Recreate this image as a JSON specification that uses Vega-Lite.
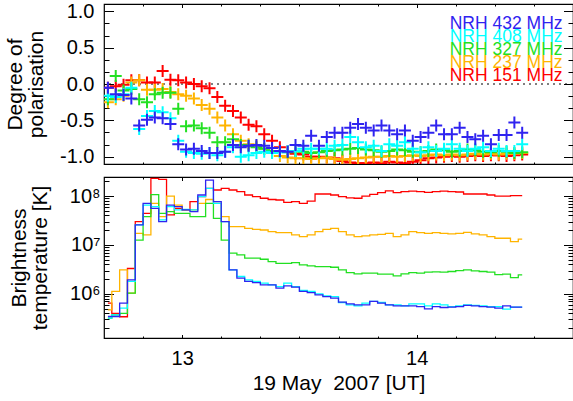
{
"$schema": "https://vega.github.io/schema/vega-lite/v6.json",
"padding": {"left": 3, "top": 0, "right": 0, "bottom": 0},
"spacing": 7,
"config": {
 "font": "Liberation Sans",
 "view": {"stroke": "black", "strokeWidth": 1.2},
 "axis": {"grid": false, "domain": false, "labelFont": "Liberation Sans", "titleFont": "Liberation Sans", "labelFontSize": 20, "titleFontSize": 21, "titleFontWeight": "normal", "labelColor": "black", "titleColor": "black", "tickColor": "black", "tickWidth": 1, "labelFlush": false, "labelOverlap": false, "titleLineHeight": 21}
},
"resolve": {"scale": {"x": "independent", "y": "independent", "color": "shared"}, "legend": {"color": "independent"}},
"data": {"values": [
{"t":12.6833,"f":151,"p":-0.05,"T":6.45e5},{"t":12.7167,"f":151,"p":-0.03,"T":4.0e5},{"t":12.75,"f":151,"p":-0.01,"T":3.4e5},{"t":12.7833,"f":151,"p":0.05,"T":3.3e6},{"t":12.8167,"f":151,"p":0.05,"T":3.0e7},{"t":12.85,"f":151,"p":0.02,"T":4.4e7},{"t":12.8833,"f":151,"p":0.02,"T":2.3e8},{"t":12.9167,"f":151,"p":0.18,"T":2.2e8},{"t":12.95,"f":151,"p":0.06,"T":4.1e7},{"t":12.9833,"f":151,"p":0.05,"T":5.6e7},
{"t":13.0167,"f":151,"p":0.02,"T":5.2e7},{"t":13.05,"f":151,"p":0.0,"T":7.7e7},{"t":13.0833,"f":151,"p":-0.03,"T":9.7e7},{"t":13.1167,"f":151,"p":-0.06,"T":1.43e8},{"t":13.15,"f":151,"p":-0.18,"T":1.33e8},{"t":13.1833,"f":151,"p":-0.30,"T":1.43e8},{"t":13.2167,"f":151,"p":-0.37,"T":1.33e8},{"t":13.25,"f":151,"p":-0.46,"T":1.23e8},{"t":13.2833,"f":151,"p":-0.56,"T":1.05e8},{"t":13.3167,"f":151,"p":-0.58,"T":9.7e7},
{"t":13.35,"f":151,"p":-0.69,"T":9.0e7},{"t":13.3833,"f":151,"p":-0.78,"T":8.5e7},{"t":13.4167,"f":151,"p":-0.87,"T":8.3e7},{"t":13.45,"f":151,"p":-0.92,"T":7.4e7},{"t":13.4833,"f":151,"p":-0.96,"T":7.7e7},{"t":13.5167,"f":151,"p":-0.97,"T":7.1e7},{"t":13.55,"f":151,"p":-1.0,"T":7.9e7},{"t":13.5833,"f":151,"p":-1.0,"T":1.1e8},{"t":13.6167,"f":151,"p":-1.01,"T":1.1e8},{"t":13.65,"f":151,"p":-1.02,"T":1.05e8},
{"t":13.6833,"f":151,"p":-1.06,"T":9.7e7},{"t":13.7167,"f":151,"p":-1.08,"T":9.2e7},{"t":13.75,"f":151,"p":-1.09,"T":9.0e7},{"t":13.7833,"f":151,"p":-1.09,"T":1.0e8},{"t":13.8167,"f":151,"p":-1.08,"T":1.08e8},{"t":13.85,"f":151,"p":-1.09,"T":1.17e8},{"t":13.8833,"f":151,"p":-1.07,"T":1.28e8},{"t":13.9167,"f":151,"p":-1.08,"T":1.17e8},{"t":13.95,"f":151,"p":-1.09,"T":1.23e8},{"t":13.9833,"f":151,"p":-1.07,"T":1.26e8},
{"t":14.0167,"f":151,"p":-1.05,"T":1.23e8},{"t":14.05,"f":151,"p":-1.02,"T":1.19e8},{"t":14.0833,"f":151,"p":-1.01,"T":1.23e8},{"t":14.1167,"f":151,"p":-1.0,"T":1.26e8},{"t":14.15,"f":151,"p":-0.99,"T":1.23e8},{"t":14.1833,"f":151,"p":-1.0,"T":1.21e8},{"t":14.2167,"f":151,"p":-0.99,"T":1.1e8},{"t":14.25,"f":151,"p":-0.98,"T":1.1e8},{"t":14.2833,"f":151,"p":-0.99,"T":1.1e8},{"t":14.3167,"f":151,"p":-0.98,"T":1.05e8},
{"t":14.35,"f":151,"p":-0.98,"T":1.0e8},{"t":14.3833,"f":151,"p":-0.99,"T":1.0e8},{"t":14.4167,"f":151,"p":-0.98,"T":1.02e8},{"t":14.45,"f":151,"p":-0.97,"T":1.02e8},
{"t":12.6833,"f":237,"p":-0.25,"T":4.7e5},{"t":12.7167,"f":237,"p":-0.21,"T":1.12e6},{"t":12.75,"f":237,"p":-0.16,"T":3.1e6},{"t":12.7833,"f":237,"p":0.02,"T":1.03e6},{"t":12.8167,"f":237,"p":0.05,"T":1.73e7},{"t":12.85,"f":237,"p":-0.08,"T":1.6e7},{"t":12.8833,"f":237,"p":-0.08,"T":7.1e7},{"t":12.9167,"f":237,"p":-0.07,"T":3.8e7},{"t":12.95,"f":237,"p":-0.11,"T":1.0e8},{"t":12.9833,"f":237,"p":-0.14,"T":6.5e7},
{"t":13.0167,"f":237,"p":-0.16,"T":5.2e7},{"t":13.05,"f":237,"p":-0.20,"T":5.2e7},{"t":13.0833,"f":237,"p":-0.29,"T":7.1e7},{"t":13.1167,"f":237,"p":-0.34,"T":8.5e7},{"t":13.15,"f":237,"p":-0.46,"T":7.1e7},{"t":13.1833,"f":237,"p":-0.57,"T":3.8e7},{"t":13.2167,"f":237,"p":-0.69,"T":2.37e7},{"t":13.25,"f":237,"p":-0.78,"T":2.37e7},{"t":13.2833,"f":237,"p":-0.83,"T":2.19e7},{"t":13.3167,"f":237,"p":-0.85,"T":2.09e7},
{"t":13.35,"f":237,"p":-0.89,"T":2.02e7},{"t":13.3833,"f":237,"p":-0.94,"T":1.87e7},{"t":13.4167,"f":237,"p":-0.99,"T":1.79e7},{"t":13.45,"f":237,"p":-1.01,"T":1.79e7},{"t":13.4833,"f":237,"p":-1.02,"T":1.6e7},{"t":13.5167,"f":237,"p":-1.02,"T":1.48e7},{"t":13.55,"f":237,"p":-1.03,"T":1.6e7},{"t":13.5833,"f":237,"p":-1.02,"T":1.87e7},{"t":13.6167,"f":237,"p":-1.01,"T":2.09e7},{"t":13.65,"f":237,"p":-1.03,"T":2.19e7},
{"t":13.6833,"f":237,"p":-1.04,"T":1.87e7},{"t":13.7167,"f":237,"p":-1.03,"T":1.6e7},{"t":13.75,"f":237,"p":-1.02,"T":1.48e7},{"t":13.7833,"f":237,"p":-1.01,"T":1.53e7},{"t":13.8167,"f":237,"p":-1.0,"T":1.6e7},{"t":13.85,"f":237,"p":-1.0,"T":1.65e7},{"t":13.8833,"f":237,"p":-0.99,"T":1.73e7},{"t":13.9167,"f":237,"p":-1.0,"T":1.48e7},{"t":13.95,"f":237,"p":-0.99,"T":1.6e7},{"t":13.9833,"f":237,"p":-0.98,"T":1.87e7},
{"t":14.0167,"f":237,"p":-0.99,"T":1.79e7},{"t":14.05,"f":237,"p":-0.98,"T":1.73e7},{"t":14.0833,"f":237,"p":-0.97,"T":1.79e7},{"t":14.1167,"f":237,"p":-0.98,"T":1.73e7},{"t":14.15,"f":237,"p":-0.97,"T":1.68e7},{"t":14.1833,"f":237,"p":-0.98,"T":1.73e7},{"t":14.2167,"f":237,"p":-0.97,"T":1.81e7},{"t":14.25,"f":237,"p":-0.96,"T":1.68e7},{"t":14.2833,"f":237,"p":-0.97,"T":1.6e7},{"t":14.3167,"f":237,"p":-0.96,"T":1.48e7},
{"t":14.35,"f":237,"p":-0.97,"T":1.37e7},{"t":14.3833,"f":237,"p":-0.96,"T":1.37e7},{"t":14.4167,"f":237,"p":-0.96,"T":1.17e7},{"t":14.45,"f":237,"p":-0.95,"T":1.31e7},
{"t":12.6833,"f":327,"p":-0.21,"T":3.18e5},{"t":12.7167,"f":327,"p":0.11,"T":3.72e5},{"t":12.75,"f":327,"p":-0.09,"T":4.0e5},{"t":12.7833,"f":327,"p":-0.07,"T":1.03e6},{"t":12.8167,"f":327,"p":-0.21,"T":1.26e7},{"t":12.85,"f":327,"p":-0.25,"T":3.8e7},{"t":12.8833,"f":327,"p":-0.14,"T":1.07e8},{"t":12.9167,"f":327,"p":-0.12,"T":4.4e7},{"t":12.95,"f":327,"p":-0.12,"T":4.8e7},{"t":12.9833,"f":327,"p":-0.34,"T":4.4e7},
{"t":13.0167,"f":327,"p":-0.58,"T":4.4e7},{"t":13.05,"f":327,"p":-0.57,"T":3.8e7},{"t":13.0833,"f":327,"p":-0.61,"T":3.8e7},{"t":13.1167,"f":327,"p":-0.67,"T":7.1e7},{"t":13.15,"f":327,"p":-0.80,"T":3.5e7},{"t":13.1833,"f":327,"p":-0.80,"T":1.26e7},{"t":13.2167,"f":327,"p":-0.76,"T":6.8e6},{"t":13.25,"f":327,"p":-0.84,"T":6.25e6},{"t":13.2833,"f":327,"p":-0.85,"T":5.35e6},{"t":13.3167,"f":327,"p":-0.87,"T":5.35e6},
{"t":13.35,"f":327,"p":-0.89,"T":5.1e6},{"t":13.3833,"f":327,"p":-0.92,"T":4.57e6},{"t":13.4167,"f":327,"p":-0.93,"T":4.2e6},{"t":13.45,"f":327,"p":-0.94,"T":4.2e6},{"t":13.4833,"f":327,"p":-0.92,"T":4.35e6},{"t":13.5167,"f":327,"p":-0.93,"T":3.9e6},{"t":13.55,"f":327,"p":-0.95,"T":3.73e6},{"t":13.5833,"f":327,"p":-0.94,"T":3.6e6},{"t":13.6167,"f":327,"p":-0.92,"T":3.6e6},{"t":13.65,"f":327,"p":-0.91,"T":3.5e6},
{"t":13.6833,"f":327,"p":-0.90,"T":3.09e6},{"t":13.7167,"f":327,"p":-0.89,"T":2.72e6},{"t":13.75,"f":327,"p":-0.88,"T":2.56e6},{"t":13.7833,"f":327,"p":-0.90,"T":2.64e6},{"t":13.8167,"f":327,"p":-0.91,"T":2.64e6},{"t":13.85,"f":327,"p":-0.93,"T":2.52e6},{"t":13.8833,"f":327,"p":-0.92,"T":2.52e6},{"t":13.9167,"f":327,"p":-0.90,"T":2.33e6},{"t":13.95,"f":327,"p":-0.91,"T":2.56e6},{"t":13.9833,"f":327,"p":-0.93,"T":2.72e6},
{"t":14.0167,"f":327,"p":-0.94,"T":2.64e6},{"t":14.05,"f":327,"p":-0.92,"T":2.77e6},{"t":14.0833,"f":327,"p":-0.90,"T":2.81e6},{"t":14.1167,"f":327,"p":-0.91,"T":2.77e6},{"t":14.15,"f":327,"p":-0.93,"T":2.86e6},{"t":14.1833,"f":327,"p":-0.92,"T":2.99e6},{"t":14.2167,"f":327,"p":-0.90,"T":3.09e6},{"t":14.25,"f":327,"p":-0.91,"T":2.95e6},{"t":14.2833,"f":327,"p":-0.93,"T":2.86e6},{"t":14.3167,"f":327,"p":-0.94,"T":2.77e6},
{"t":14.35,"f":327,"p":-0.92,"T":2.48e6},{"t":14.3833,"f":327,"p":-0.93,"T":2.52e6},{"t":14.4167,"f":327,"p":-0.95,"T":2.15e6},{"t":14.45,"f":327,"p":-0.94,"T":2.44e6},
{"t":12.6833,"f":408,"p":-0.16,"T":3.18e5},{"t":12.7167,"f":408,"p":-0.18,"T":3.72e5},{"t":12.75,"f":408,"p":-0.14,"T":5.1e5},{"t":12.7833,"f":408,"p":-0.05,"T":1.79e6},{"t":12.8167,"f":408,"p":-0.62,"T":2.56e7},{"t":12.85,"f":408,"p":-0.44,"T":6.5e7},{"t":12.8833,"f":408,"p":-0.37,"T":6.05e7},{"t":12.9167,"f":408,"p":-0.39,"T":3.24e7},{"t":12.95,"f":408,"p":-0.47,"T":6.05e7},{"t":12.9833,"f":408,"p":-0.78,"T":5.2e7},
{"t":13.0167,"f":408,"p":-0.93,"T":5.3e7},{"t":13.05,"f":408,"p":-0.95,"T":5.2e7},{"t":13.0833,"f":408,"p":-0.96,"T":9.7e7},{"t":13.1167,"f":408,"p":-0.95,"T":1.43e8},{"t":13.15,"f":408,"p":-0.98,"T":7.1e7},{"t":13.1833,"f":408,"p":-0.93,"T":3.0e7},{"t":13.2167,"f":408,"p":-0.87,"T":3.09e6},{"t":13.25,"f":408,"p":-1.0,"T":2.26e6},{"t":13.2833,"f":408,"p":-0.98,"T":1.93e6},{"t":13.3167,"f":408,"p":-0.95,"T":1.79e6},
{"t":13.35,"f":408,"p":-0.93,"T":1.65e6},{"t":13.3833,"f":408,"p":-0.95,"T":1.53e6},{"t":13.4167,"f":408,"p":-0.94,"T":1.41e6},{"t":13.45,"f":408,"p":-0.92,"T":1.65e6},{"t":13.4833,"f":408,"p":-0.92,"T":1.41e6},{"t":13.5167,"f":408,"p":-0.89,"T":1.17e6},{"t":13.55,"f":408,"p":-0.89,"T":1.12e6},{"t":13.5833,"f":408,"p":-0.89,"T":1.0e6},{"t":13.6167,"f":408,"p":-0.89,"T":9.1e5},{"t":13.65,"f":408,"p":-0.85,"T":8.8e5},
{"t":13.6833,"f":408,"p":-0.84,"T":6.65e5},{"t":13.7167,"f":408,"p":-0.73,"T":5.97e5},{"t":13.75,"f":408,"p":-0.80,"T":5.7e5},{"t":13.7833,"f":408,"p":-0.87,"T":6.45e5},{"t":13.8167,"f":408,"p":-0.85,"T":7.0e5},{"t":13.85,"f":408,"p":-0.92,"T":6.65e5},{"t":13.8833,"f":408,"p":-0.83,"T":5.97e5},{"t":13.9167,"f":408,"p":-0.85,"T":5.97e5},{"t":13.95,"f":408,"p":-0.80,"T":5.7e5},{"t":13.9833,"f":408,"p":-0.89,"T":6.25e5},
{"t":14.0167,"f":408,"p":-0.94,"T":6.25e5},{"t":14.05,"f":408,"p":-0.87,"T":5.7e5},{"t":14.0833,"f":408,"p":-0.92,"T":6.25e5},{"t":14.1167,"f":408,"p":-0.89,"T":5.97e5},{"t":14.15,"f":408,"p":-0.83,"T":5.5e5},{"t":14.1833,"f":408,"p":-0.89,"T":5.7e5},{"t":14.2167,"f":408,"p":-0.92,"T":5.97e5},{"t":14.25,"f":408,"p":-0.89,"T":5.8e5},{"t":14.2833,"f":408,"p":-0.87,"T":5.7e5},{"t":14.3167,"f":408,"p":-0.92,"T":5.5e5},
{"t":14.35,"f":408,"p":-0.89,"T":5.5e5},{"t":14.3833,"f":408,"p":-0.92,"T":4.87e5},{"t":14.4167,"f":408,"p":-0.92,"T":5.35e5},{"t":14.45,"f":408,"p":-0.83,"T":5.35e5},
{"t":12.6833,"f":432,"p":-0.05,"T":3.44e5},{"t":12.7167,"f":432,"p":-0.14,"T":3.44e5},{"t":12.75,"f":432,"p":-0.15,"T":6.45e5},{"t":12.7833,"f":432,"p":-0.20,"T":1.93e6},{"t":12.8167,"f":432,"p":-0.57,"T":2.56e7},{"t":12.85,"f":432,"p":-0.49,"T":7.1e7},{"t":12.8833,"f":432,"p":-0.46,"T":5.6e7},{"t":12.9167,"f":432,"p":-0.47,"T":3.0e7},{"t":12.95,"f":432,"p":-0.55,"T":6.5e7},{"t":12.9833,"f":432,"p":-0.83,"T":6.05e7},
{"t":13.0167,"f":432,"p":-0.90,"T":5.2e7},{"t":13.05,"f":432,"p":-0.89,"T":4.8e7},{"t":13.0833,"f":432,"p":-0.92,"T":1.05e8},{"t":13.1167,"f":432,"p":-0.95,"T":2.12e8},{"t":13.15,"f":432,"p":-0.95,"T":7.7e7},{"t":13.1833,"f":432,"p":-0.93,"T":3.0e7},{"t":13.2167,"f":432,"p":-0.84,"T":3.09e6},{"t":13.25,"f":432,"p":-0.87,"T":2.09e6},{"t":13.2833,"f":432,"p":-0.85,"T":1.79e6},{"t":13.3167,"f":432,"p":-0.84,"T":1.7e6},
{"t":13.35,"f":432,"p":-0.85,"T":1.53e6},{"t":13.3833,"f":432,"p":-0.88,"T":1.53e6},{"t":13.4167,"f":432,"p":-0.92,"T":1.31e6},{"t":13.45,"f":432,"p":-0.93,"T":1.46e6},{"t":13.4833,"f":432,"p":-0.84,"T":1.37e6},{"t":13.5167,"f":432,"p":-0.85,"T":1.12e6},{"t":13.55,"f":432,"p":-0.71,"T":1.06e6},{"t":13.5833,"f":432,"p":-0.85,"T":9.5e5},{"t":13.6167,"f":432,"p":-0.73,"T":8.8e5},{"t":13.65,"f":432,"p":-0.67,"T":8.2e5},
{"t":13.6833,"f":432,"p":-0.67,"T":6.8e5},{"t":13.7167,"f":432,"p":-0.60,"T":6.25e5},{"t":13.75,"f":432,"p":-0.55,"T":5.97e5},{"t":13.7833,"f":432,"p":-0.60,"T":5.97e5},{"t":13.8167,"f":432,"p":-0.64,"T":7.0e5},{"t":13.85,"f":432,"p":-0.57,"T":6.45e5},{"t":13.8833,"f":432,"p":-0.64,"T":5.97e5},{"t":13.9167,"f":432,"p":-0.69,"T":5.7e5},{"t":13.95,"f":432,"p":-0.64,"T":5.7e5},{"t":13.9833,"f":432,"p":-0.78,"T":5.7e5},
{"t":14.0167,"f":432,"p":-0.73,"T":5.5e5},{"t":14.05,"f":432,"p":-0.67,"T":4.94e5},{"t":14.0833,"f":432,"p":-0.57,"T":5.5e5},{"t":14.1167,"f":432,"p":-0.69,"T":5.26e5},{"t":14.15,"f":432,"p":-0.69,"T":5.35e5},{"t":14.1833,"f":432,"p":-0.60,"T":5.5e5},{"t":14.2167,"f":432,"p":-0.73,"T":5.8e5},{"t":14.25,"f":432,"p":-0.76,"T":5.7e5},{"t":14.2833,"f":432,"p":-0.71,"T":5.5e5},{"t":14.3167,"f":432,"p":-0.83,"T":5.35e5},
{"t":14.35,"f":432,"p":-0.70,"T":5.1e5},{"t":14.3833,"f":432,"p":-0.70,"T":5.7e5},{"t":14.4167,"f":432,"p":-0.53,"T":5.35e5},{"t":14.45,"f":432,"p":-0.67,"T":5.35e5}
]},
"vconcat": [
{
 "width": 469, "height": 160,
 "resolve": {"axis": {"x": "independent", "y": "independent"}, "scale": {"y": "independent"}},
 "layer": [
  {"data": {"values": [{}]},
   "mark": {"type": "rule", "strokeDash": [2, 4], "color": "black", "strokeWidth": 1},
   "encoding": {"y": {"datum": 0, "type": "quantitative", "scale": {"domain": [-1.1, 1.1], "nice": false, "zero": false}, "axis": null}}},
  {"mark": {"type": "point", "shape": "M-1,0H1M0,-1V1", "filled": false, "size": 144, "strokeWidth": 2, "opacity": 1, "clip": true},
   "encoding": {
    "x": {"field": "t", "type": "quantitative", "scale": {"domain": [12.666667, 14.666667], "nice": false, "zero": false}, "axis": null},
    "y": {"field": "p", "type": "quantitative", "scale": {"domain": [-1.1, 1.1], "nice": false, "zero": false},
          "axis": {"orient": "left", "values": [-1, -0.5, 0, 0.5, 1], "labelExpr": "datum.value < 0 ? '-' + format(-datum.value, '.1f') : format(datum.value, '.1f')", "ticks": false, "labelPadding": 10, "title": ["Degree of", "polarisation"], "titlePadding": 13}},
    "color": {"field": "f", "type": "nominal",
      "scale": {"domain": [432, 408, 327, 237, 151], "range": ["#2f23f0", "#00ffff", "#22e022", "#ffb400", "#ff0000"]}, "legend": null}
   }},
  {"data": {"values": [
     {"f": 432, "name": "NRH 432 MHz"}, {"f": 408, "name": "NRH 408 MHz"}, {"f": 327, "name": "NRH 327 MHz"}, {"f": 237, "name": "NRH 237 MHz"}, {"f": 151, "name": "NRH 151 MHz"}]},
   "transform": [{"window": [{"op": "row_number", "as": "k"}]}],
   "mark": {"type": "text", "align": "right", "baseline": "middle", "fontSize": 17.5, "font": "Liberation Sans"},
   "encoding": {
    "x": {"datum": 14.622, "type": "quantitative", "scale": {"domain": [12.666667, 14.666667], "nice": false, "zero": false}, "axis": null},
    "y": {"field": "k", "type": "quantitative", "scale": {"domain": [-0.538, 11.77], "reverse": true, "nice": false, "zero": false}, "axis": null},
    "text": {"field": "name"},
    "color": {"field": "f", "type": "nominal", "scale": {"domain": [432, 408, 327, 237, 151], "range": ["#2f23f0", "#00ffff", "#22e022", "#ffb400", "#ff0000"]}, "legend": null}
   }},
  {"mark": {"type": "point", "opacity": 0, "size": 0},
   "encoding": {
    "x": {"field": "t", "type": "quantitative", "scale": {"domain": [12.666667, 14.666667], "nice": false, "zero": false}, "axis": {"orient": "bottom", "values": [13, 14], "labels": false, "title": null, "tickSize": -3.5}},
    "y": {"field": "p", "type": "quantitative", "scale": {"domain": [-1.1, 1.1], "nice": false, "zero": false}, "axis": {"orient": "left", "values": [-1, -0.5, 0, 0.5, 1], "labels": false, "title": null, "tickSize": -9.5}}}},
  {"mark": {"type": "point", "opacity": 0, "size": 0},
   "encoding": {
    "x": {"field": "t", "type": "quantitative", "scale": {"domain": [12.666667, 14.666667], "nice": false, "zero": false}, "axis": {"orient": "bottom", "values": [12.8333, 13.1667, 13.3333, 13.5, 13.6667, 13.8333, 14.1667, 14.3333, 14.5], "labels": false, "title": null, "tickSize": -2}},
    "y": {"field": "p", "type": "quantitative", "scale": {"domain": [-1.1, 1.1], "nice": false, "zero": false}, "axis": {"orient": "left", "values": [-0.8333, -0.6667, -0.3333, -0.1667, 0.1667, 0.3333, 0.6667, 0.8333], "labels": false, "title": null, "tickSize": -5}}}},
  {"mark": {"type": "point", "opacity": 0, "size": 0},
   "encoding": {
    "x": {"field": "t", "type": "quantitative", "scale": {"domain": [12.666667, 14.666667], "nice": false, "zero": false}, "axis": {"orient": "top", "values": [13, 14], "labels": false, "title": null, "tickSize": -3.5}},
    "y": {"field": "p", "type": "quantitative", "scale": {"domain": [-1.1, 1.1], "nice": false, "zero": false}, "axis": {"orient": "right", "values": [-1, -0.5, 0, 0.5, 1], "labels": false, "title": null, "tickSize": -9.5}}}},
  {"mark": {"type": "point", "opacity": 0, "size": 0},
   "encoding": {
    "x": {"field": "t", "type": "quantitative", "scale": {"domain": [12.666667, 14.666667], "nice": false, "zero": false}, "axis": {"orient": "top", "values": [12.8333, 13.1667, 13.3333, 13.5, 13.6667, 13.8333, 14.1667, 14.3333, 14.5], "labels": false, "title": null, "tickSize": -2}},
    "y": {"field": "p", "type": "quantitative", "scale": {"domain": [-1.1, 1.1], "nice": false, "zero": false}, "axis": {"orient": "right", "values": [-0.8333, -0.6667, -0.3333, -0.1667, 0.1667, 0.3333, 0.6667, 0.8333], "labels": false, "title": null, "tickSize": -5}}}}
 ]
},
{
 "width": 469, "height": 161,
 "resolve": {"axis": {"x": "independent", "y": "independent"}},
 "layer": [
  {"mark": {"type": "line", "interpolate": "step", "strokeWidth": 1.3, "clip": true},
   "encoding": {
    "x": {"field": "t", "type": "quantitative", "scale": {"domain": [12.666667, 14.666667], "nice": false, "zero": false},
          "axis": {"orient": "bottom", "values": [13, 14], "format": "d", "ticks": false, "labelPadding": 10, "title": "19 May\u00a0 2007 [UT]", "titlePadding": 4}},
    "y": {"field": "T", "type": "quantitative", "scale": {"type": "log", "domain": [125000, 245000000], "nice": false},
          "axis": {"orient": "left", "values": [1000000, 10000000, 100000000], "labelExpr": "datum.value > 5e7 ? '10⁸' : datum.value > 5e6 ? '10⁷' : '10⁶'", "ticks": false, "labelPadding": 4, "title": ["Brightness", "temperature [K]"], "titlePadding": 19}},
    "color": {"field": "f", "type": "nominal", "scale": {"domain": [432, 408, 327, 237, 151], "range": ["#2f23f0", "#00ffff", "#22e022", "#ffb400", "#ff0000"]}, "legend": null}
   }},
  {"mark": {"type": "point", "opacity": 0, "size": 0},
   "encoding": {
    "x": {"field": "t", "type": "quantitative", "scale": {"domain": [12.666667, 14.666667], "nice": false, "zero": false}, "axis": {"orient": "bottom", "values": [13, 14], "labels": false, "title": null, "tickSize": -3.5}},
    "y": {"field": "T", "type": "quantitative", "scale": {"type": "log", "domain": [125000, 245000000], "nice": false}, "axis": {"orient": "left", "values": [1000000, 10000000, 100000000], "labels": false, "title": null, "tickSize": -9.5}}}},
  {"mark": {"type": "point", "opacity": 0, "size": 0},
   "encoding": {
    "x": {"field": "t", "type": "quantitative", "scale": {"domain": [12.666667, 14.666667], "nice": false, "zero": false}, "axis": {"orient": "bottom", "values": [12.8333, 13.1667, 13.3333, 13.5, 13.6667, 13.8333, 14.1667, 14.3333, 14.5], "labels": false, "title": null, "tickSize": -2}},
    "y": {"field": "T", "type": "quantitative", "scale": {"type": "log", "domain": [125000, 245000000], "nice": false}, "axis": {"orient": "left", "values": [200000, 300000, 400000, 500000, 600000, 700000, 800000, 900000, 2000000, 3000000, 4000000, 5000000, 6000000, 7000000, 8000000, 9000000, 20000000, 30000000, 40000000, 50000000, 60000000, 70000000, 80000000, 90000000, 200000000], "labels": false, "title": null, "tickSize": -5}}}},
  {"mark": {"type": "point", "opacity": 0, "size": 0},
   "encoding": {
    "x": {"field": "t", "type": "quantitative", "scale": {"domain": [12.666667, 14.666667], "nice": false, "zero": false}, "axis": {"orient": "top", "values": [13, 14], "labels": false, "title": null, "tickSize": -3.5}},
    "y": {"field": "T", "type": "quantitative", "scale": {"type": "log", "domain": [125000, 245000000], "nice": false}, "axis": {"orient": "right", "values": [1000000, 10000000, 100000000], "labels": false, "title": null, "tickSize": -9.5}}}},
  {"mark": {"type": "point", "opacity": 0, "size": 0},
   "encoding": {
    "x": {"field": "t", "type": "quantitative", "scale": {"domain": [12.666667, 14.666667], "nice": false, "zero": false}, "axis": {"orient": "top", "values": [12.8333, 13.1667, 13.3333, 13.5, 13.6667, 13.8333, 14.1667, 14.3333, 14.5], "labels": false, "title": null, "tickSize": -2}},
    "y": {"field": "T", "type": "quantitative", "scale": {"type": "log", "domain": [125000, 245000000], "nice": false}, "axis": {"orient": "right", "values": [200000, 300000, 400000, 500000, 600000, 700000, 800000, 900000, 2000000, 3000000, 4000000, 5000000, 6000000, 7000000, 8000000, 9000000, 20000000, 30000000, 40000000, 50000000, 60000000, 70000000, 80000000, 90000000, 200000000], "labels": false, "title": null, "tickSize": -5}}}}
 ]
}
]
}
